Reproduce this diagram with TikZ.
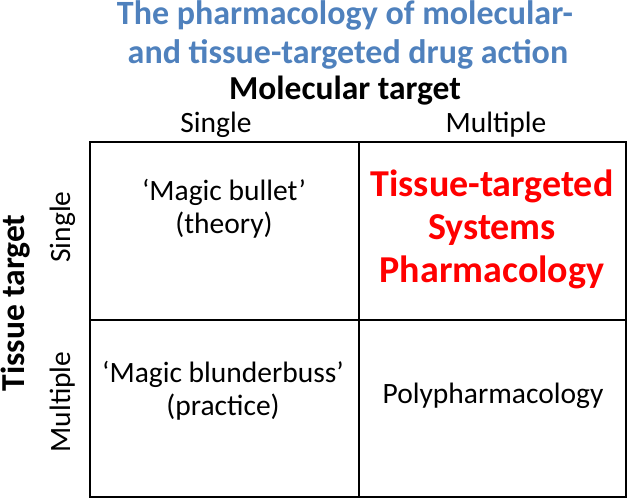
\documentclass[tikz,border=0pt]{standalone}
\usepackage{fontspec}
\setmainfont{Carlito}
\usetikzlibrary{positioning}
\definecolor{titleblue}{RGB}{79,129,189}
\definecolor{hotred}{RGB}{255,0,0}

\begin{document}
\begin{tikzpicture}
      [
        x = 1pt, y = -1pt,
        heading/.style = {font=\bfseries\fontsize{34}{40}\selectfont, text=titleblue, anchor=base, inner sep=0pt},
        axislabel/.style = {font=\bfseries\fontsize{33.5}{38}\selectfont, anchor=base, inner sep=0pt},
        ticklabel/.style = {font=\fontsize{29.5}{34}\selectfont, anchor=base, inner sep=0pt},
        celltext/.style = {font=\fontsize{29.5}{33}\selectfont, align=center, inner sep=0pt},
        hottext/.style = {font=\bfseries\fontsize{38}{43}\selectfont, text=hotred, align=center, inner sep=0pt}
      ]

      \useasboundingbox (0,0) rectangle (630,500);

      % title
      \node[heading] (title1) at (345,25) {The pharmacology of molecular-};
      \node[heading] (title2) at (348,64) {and tissue-targeted drug action};

      % axes
      \node[axislabel] (moltarget) at (345,100) {Molecular target};
      \node[axislabel, rotate=90] (tistarget) at (24,303) {Tissue target};

      \node[ticklabel] (colsingle) at (216,133) {Single};
      \node[ticklabel] (colmultiple) at (496,133) {Multiple};
      \node[ticklabel, rotate=90] (rowsingle) at (70,227) {Single};
      \node[ticklabel, rotate=90] (rowmultiple) at (70,402) {Multiple};

      % grid
      \coordinate (nw) at (90,142);
      \coordinate (se) at (626,497);
      \coordinate (midtop) at (359,142);
      \coordinate (midbot) at (359,497);
      \coordinate (midleft) at (90,320);
      \coordinate (midright) at (626,320);
      \draw[line width=1.8pt] (nw) rectangle (se);
      \draw[line width=1.8pt] (midtop) -- (midbot);
      \draw[line width=1.8pt] (midleft) -- (midright);

      % cells
      \node[celltext] (bullet) at (224,209) {‘Magic bullet’\\(theory)};
      \node[hottext] (tissuesys) at (492,229) {Tissue-targeted\\Systems\\Pharmacology};
      \node[celltext] (blunder) at (223,391) {‘Magic blunderbuss’\\(practice)};
      \node[celltext, anchor=base] (poly) at (493,403) {Polypharmacology};

    \end{tikzpicture}
\end{document}
